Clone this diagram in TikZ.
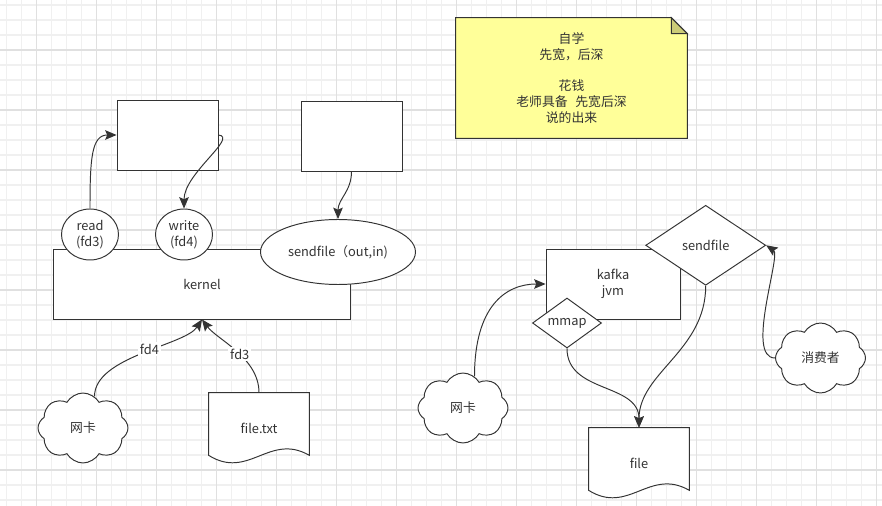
\documentclass[tikz,border=0pt]{standalone}
\usepackage{fontspec}
\setmainfont{Noto Sans CJK SC}
\usetikzlibrary{arrows.meta, positioning, shapes.geometric, shapes.symbols, calc}

\definecolor{lineclr}{HTML}{333333}
\definecolor{gridminor}{HTML}{F0F0F0}
\definecolor{gridmajor}{HTML}{E0E0E0}
\definecolor{notefill}{HTML}{FFFF99}
\definecolor{notefold}{HTML}{CCCC77}

\pgfdeclarelayer{gridlayer}
\pgfdeclarelayer{shapelayer}
\pgfsetlayers{gridlayer,shapelayer,main}

\begin{document}
\begin{tikzpicture}[x=0.02cm, y=-0.02cm,
    every node/.style={text=lineclr, font=\fontsize{7.3}{9}\selectfont, align=center},
    block/.style={draw=lineclr, line width=0.55pt, fill=white, inner sep=0pt},
    oval/.style={ellipse, draw=lineclr, line width=0.55pt, fill=white, inner sep=0pt},
    decision/.style={diamond, draw=lineclr, line width=0.55pt, fill=white, inner sep=0pt},
    puff/.style={cloud, cloud puffs=8, cloud puff arc=120, cloud ignores aspect, draw=lineclr,
                 line width=0.55pt, fill=white, minimum width=1.8cm, minimum height=1.4cm},
    docbox/.style={minimum width=2cm, minimum height=1.4cm, inner sep=0pt},
    arr/.style={draw=lineclr, line width=0.55pt, -{Stealth[length=6.5pt,width=5.5pt,inset=1.2pt]}},
    tag/.style={fill=white, inner sep=1pt}]

    \useasboundingbox (0,0) rectangle (882,506);

    % Grid background
    \begin{pgfonlayer}{gridlayer}
        \fill[white] (0,0) rectangle (882,506);
        \foreach \x in {6.5,21.5,...,881} \draw[gridminor, line width=0.6pt] (\x,0) -- (\x,506);
        \foreach \y in {5,20,...,505} \draw[gridminor, line width=0.6pt] (0,\y) -- (882,\y);
        \foreach \x in {36.5,96.5,...,880} \draw[gridmajor, line width=0.6pt] (\x,0) -- (\x,506);
        \foreach \y in {50,110,...,500} \draw[gridmajor, line width=0.6pt] (0,\y) -- (882,\y);
    \end{pgfonlayer}

    % Left side - read / write through the kernel
    \node[block, minimum width=5.96cm, minimum height=1.4cm] (kernel) at (202,284) {kernel};
    \node[oval, minimum width=1.14cm, minimum height=1.02cm] (read) at (90,234.5) {read\\(fd3)};
    \node[oval, minimum width=1.14cm, minimum height=1.02cm] (write) at (184,234.5) {write\\(fd4)};
    \node[oval, minimum width=3.1cm, minimum height=1.3cm] (sendcall) at (338,252) {sendfile（out,in)};
    \node[block, minimum width=2.02cm, minimum height=1.4cm] (buf1) at (167.5,135) {};
    \node[block, minimum width=2.02cm, minimum height=1.4cm] (buf2) at (351.5,136) {};

    \node[puff] (net1) at (83,428) {网卡};
    \node[docbox] (ftxt) at (259,428) {file.txt};

    \draw[arr] (read.north) .. controls +(0,-50) and +(-25,0) .. (buf1.west);
    \draw[arr] (buf1.east) .. controls +(20,2) and +(0,-35) .. (write.north);
    \draw[arr] (buf2.south) .. controls +(0,20) and +(0,-20) .. (sendcall.north);
    \draw[arr] (net1.70) .. controls +(0,-40) and +(-17,26) .. node[tag, pos=0.55] {fd4} (kernel.south);
    \draw[arr] (ftxt.north) .. controls +(0,-35) and +(15,20) .. node[tag, pos=0.45] {fd3} (kernel.south);

    % Right side - kafka
    \node[block, minimum width=2.68cm, minimum height=1.4cm] (kafka) at (613,284) {kafka\\jvm};
    \node[decision, minimum width=2.4cm, minimum height=1.6cm] (zerocopy) at (705.7,245.3) {sendfile};
    \node[decision, minimum width=1.38cm, minimum height=1cm] (mmap) at (567,323) {mmap};
    \node[docbox] (file) at (639,463) {file};
    \node[puff] (net2) at (463,408) {网卡};
    \node[puff] (consumer) at (820.5,358) {消费者};

    \draw[arr] (net2.70) .. controls +(0,-70) and +(-40,0) .. (kafka.west);
    \draw[arr] (mmap.south) .. controls +(0,45) and +(0,-45) .. (file.north);
    \draw[arr] (zerocopy.south) .. controls +(0,65) and +(0,-55) .. (file.north);
    \draw[arr] (consumer.west) .. controls +(-30,0) and +(15,10) .. (zerocopy.east);

    % Note
    \node[minimum width=4.62cm, minimum height=2.4cm] (note) at (571.5,78)
        {自学\\先宽，后深\\[9pt]花钱\\老师具备\hspace{0.6em}先宽后深\\说的出来};

    % Document and note outlines
    \begin{pgfonlayer}{shapelayer}
        \foreach \d in {ftxt,file}
            \draw[draw=lineclr, line width=0.55pt, fill=white] (\d.north west) -- (\d.north east)
                -- ($(\d.south east)+(0,-8)$)
                .. controls ($(\d.south east)+(-40,-31)$) and ($(\d.south west)+(40,17)$) .. ($(\d.south west)+(0,-8)$)
                -- cycle;
        \draw[draw=lineclr, line width=0.55pt, fill=notefill] (note.north west) -- ($(note.north east)+(-16,0)$)
            -- ($(note.north east)+(0,16)$) -- (note.south east) -- (note.south west) -- cycle;
        \draw[draw=lineclr, line width=0.55pt, fill=notefold] ($(note.north east)+(-16,0)$)
            -- ($(note.north east)+(-16,16)$) -- ($(note.north east)+(0,16)$) -- cycle;
    \end{pgfonlayer}
\end{tikzpicture}
\end{document}
